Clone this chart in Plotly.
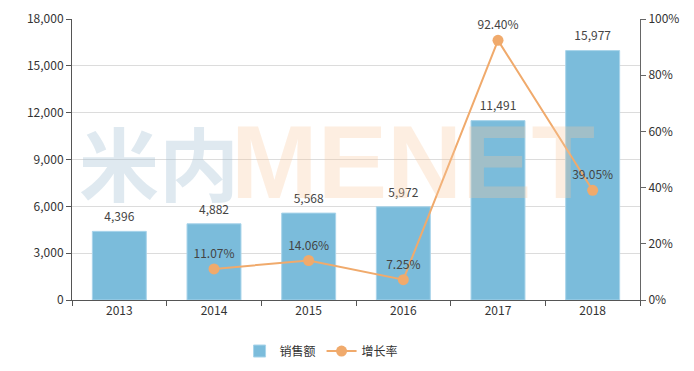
import plotly.graph_objects as go

years = ["2013", "2014", "2015", "2016", "2017", "2018"]
sales = [4396, 4882, 5568, 5972, 11491, 15977]
growth_years = ["2014", "2015", "2016", "2017", "2018"]
growth = [11.07, 14.06, 7.25, 92.40, 39.05]

FONT = "Noto Sans CJK SC, Noto Sans, sans-serif"
fig = go.Figure()
fig.add_trace(go.Bar(
    x=years, y=sales, name="销售额",
    marker=dict(color="#7bbcdb", line=dict(color="#a9d4ea", width=1)),
    width=0.57,
))
fig.add_trace(go.Scatter(
    x=years, y=sales, mode="markers+text", showlegend=False, hoverinfo="skip",
    marker=dict(size=10, opacity=0),
    text=[f"{v:,}" for v in sales], textposition="top center",
    textfont=dict(size=12, color="#444"), cliponaxis=False,
))
fig.add_trace(go.Scatter(
    x=growth_years, y=growth, name="增长率", yaxis="y2",
    mode="lines+markers+text",
    line=dict(color="#f0aa6c", width=2),
    marker=dict(color="#f0aa6c", size=11),
    text=[f"{v:.2f}%" for v in growth], textposition="top center",
    textfont=dict(size=12, color="#444"), cliponaxis=False,
))

fig.add_annotation(text="<b>米内</b>", xref="paper", yref="paper", x=0.153, y=0.50,
                   showarrow=False, font=dict(family="Noto Sans CJK SC", size=80, color="rgba(163,192,212,0.35)"),
                   xanchor="center", yanchor="middle")
fig.add_annotation(text="<b>MENET</b>", xref="paper", yref="paper", x=0.6, y=0.49,
                   showarrow=False, font=dict(family="Liberation Sans", size=104, color="rgba(248,198,155,0.3)"),
                   xanchor="center", yanchor="middle")

fig.update_layout(
    width=694, height=371,
    margin=dict(l=64, r=62, t=11, b=79, autoexpand=False),
    plot_bgcolor="white", paper_bgcolor="white",
    font=dict(family=FONT, size=12, color="#333"),
    showlegend=True,
    legend=dict(orientation="h", x=0.295, xanchor="left", y=-0.13, yanchor="top",
                font=dict(size=12, color="#333"), itemwidth=30, tracegroupgap=0,
                entrywidth=37),
    xaxis=dict(type="category", showline=True, linecolor="#555", linewidth=1,
               ticks="outside", tickson="boundaries", ticklen=5, tickcolor="#555",
               showgrid=False, tickfont=dict(size=12, color="#333"), automargin=False),
    yaxis=dict(range=[0, 18000], dtick=3000, tickformat=",", showline=True,
               linecolor="#555", ticks="outside", ticklen=5, tickcolor="#555",
               gridcolor="#dcdcdc", zeroline=False, tickfont=dict(size=12, color="#333"),
               automargin=False),
    yaxis2=dict(range=[0, 100], dtick=20, ticksuffix="%", overlaying="y", side="right",
                showline=True, linecolor="#666", ticks="outside", ticklen=5, tickcolor="#666",
                showgrid=False, zeroline=False, tickfont=dict(size=12, color="#333"),
                automargin=False),
)
fig.write_html("out.html")
